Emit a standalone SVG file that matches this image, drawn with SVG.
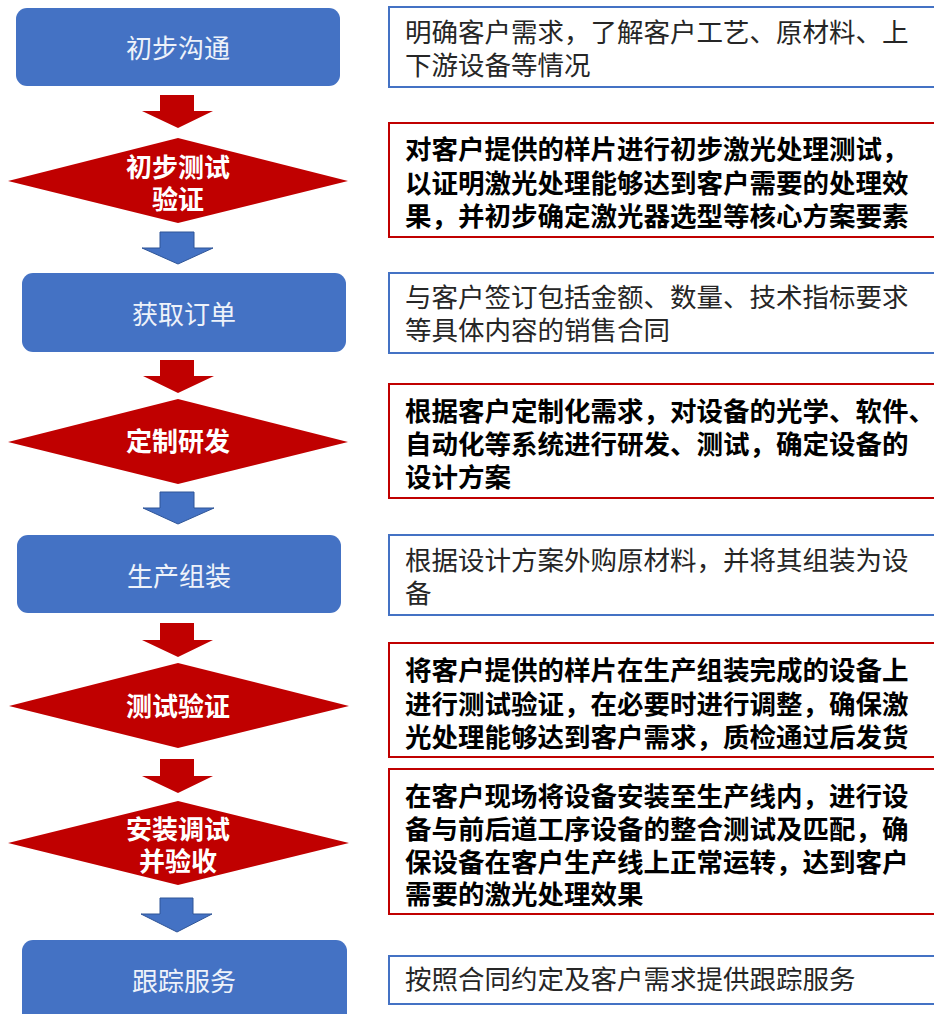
<svg xmlns="http://www.w3.org/2000/svg" width="934" height="1014" viewBox="0 0 934 1014">
<defs>
<style>
.box{fill:#4472C4;}
.dia{fill:#C00000;}
.btxt{font-family:"Liberation Serif","Noto Sans CJK SC",serif;font-size:26px;fill:#EEF2FA;text-anchor:middle;dominant-baseline:central;}
.dtxt{font-family:"Liberation Serif","Noto Sans CJK SC",serif;font-size:26px;font-weight:bold;fill:#FFFFFF;text-anchor:middle;dominant-baseline:central;}
.note-b{fill:#FFFFFF;stroke:#4472C4;stroke-width:2;}
.note-r{fill:#FFFFFF;stroke:#C00000;stroke-width:2;}
.ntxt{font-family:"Liberation Serif","Noto Sans CJK SC",serif;font-size:26.5px;fill:#262626;dominant-baseline:central;}
.ntxt-b{font-family:"Liberation Serif","Noto Sans CJK SC",serif;font-size:26.5px;font-weight:bold;fill:#000000;dominant-baseline:central;}
.arr-r{fill:#C00000;}
.arr-b{fill:#4472C4;stroke:#2F5597;stroke-width:1;}
</style>
</defs>

<g id="connectors">
<path class="arr-r" d="M160,95 H194 V111 H213 L178,128 L142,111 H160 Z"/>
<path class="arr-b" d="M160,232 H194 V248 H213 L178,264 L142,248 H160 Z"/>
<path class="arr-r" d="M160,360 H194 V376 H214 L178,393 L143,376 H160 Z"/>
<path class="arr-b" d="M160,492 H194 V508 H214 L178,524 L143,508 H160 Z"/>
<path class="arr-r" d="M160,623 H194 V640 H213 L178,657 L142,640 H160 Z"/>
<path class="arr-r" d="M160,759 H194 V776 H213 L178,793 L142,776 H160 Z"/>
<path class="arr-b" d="M160,898 H193 V914 H212 L177,932 L141,914 H160 Z"/>
</g>

<g id="n1">
<rect class="box" x="16" y="8" width="324" height="78" rx="11"/>
<text class="btxt" x="178" y="49">初步沟通</text>
</g>
<g id="d1">
<polygon class="dia" points="178,138 348,181 178,223 8,181"/>
<text class="dtxt" x="178" y="168">初步测试</text>
<text class="dtxt" x="178" y="200">验证</text>
</g>
<g id="n2">
<rect class="box" x="22" y="273" width="324" height="79" rx="11"/>
<text class="btxt" x="184" y="315">获取订单</text>
</g>
<g id="d2">
<polygon class="dia" points="178,399 348,442 178,484 8,442"/>
<text class="dtxt" x="178" y="442">定制研发</text>
</g>
<g id="n3">
<rect class="box" x="17" y="535" width="324" height="78" rx="11"/>
<text class="btxt" x="179" y="577">生产组装</text>
</g>
<g id="d3">
<polygon class="dia" points="178,663 349,706 178,748 9,706"/>
<text class="dtxt" x="178" y="707">测试验证</text>
</g>
<g id="d4">
<polygon class="dia" points="178,801 349,843 178,885 8,843"/>
<text class="dtxt" x="178" y="830">安装调试</text>
<text class="dtxt" x="178" y="862">并验收</text>
</g>
<g id="n4">
<rect class="box" x="22" y="940" width="325" height="90" rx="11"/>
<text class="btxt" x="184" y="982">跟踪服务</text>
</g>

<g id="t1">
<rect class="note-b" x="389" y="7" width="560" height="80"/>
<text class="ntxt" x="405" y="33">明确客户需求，了解客户工艺、原材料、上</text>
<text class="ntxt" x="405" y="66">下游设备等情况</text>
</g>
<g id="t2">
<rect class="note-r" x="389" y="123" width="560" height="114"/>
<text class="ntxt-b" x="405" y="150">对客户提供的样片进行初步激光处理测试，</text>
<text class="ntxt-b" x="405" y="184">以证明激光处理能够达到客户需要的处理效</text>
<text class="ntxt-b" x="405" y="217">果，并初步确定激光器选型等核心方案要素</text>
</g>
<g id="t3">
<rect class="note-b" x="389" y="273" width="560" height="80"/>
<text class="ntxt" x="405" y="298">与客户签订包括金额、数量、技术指标要求</text>
<text class="ntxt" x="405" y="331">等具体内容的销售合同</text>
</g>
<g id="t4">
<rect class="note-r" x="389" y="384" width="560" height="114"/>
<text class="ntxt-b" x="405" y="412">根据客户定制化需求，对设备的光学、软件、</text>
<text class="ntxt-b" x="405" y="445">自动化等系统进行研发、测试，确定设备的</text>
<text class="ntxt-b" x="405" y="478">设计方案</text>
</g>
<g id="t5">
<rect class="note-b" x="389" y="535" width="560" height="80"/>
<text class="ntxt" x="405" y="561">根据设计方案外购原材料，并将其组装为设</text>
<text class="ntxt" x="405" y="594">备</text>
</g>
<g id="t6">
<rect class="note-r" x="389" y="643" width="560" height="114"/>
<text class="ntxt-b" x="405" y="671">将客户提供的样片在生产组装完成的设备上</text>
<text class="ntxt-b" x="405" y="705">进行测试验证，在必要时进行调整，确保激</text>
<text class="ntxt-b" x="405" y="738">光处理能够达到客户需求，质检通过后发货</text>
</g>
<g id="t7">
<rect class="note-r" x="389" y="769" width="560" height="145"/>
<text class="ntxt-b" x="405" y="797">在客户现场将设备安装至生产线内，进行设</text>
<text class="ntxt-b" x="405" y="830">备与前后道工序设备的整合测试及匹配，确</text>
<text class="ntxt-b" x="405" y="863">保设备在客户生产线上正常运转，达到客户</text>
<text class="ntxt-b" x="405" y="895">需要的激光处理效果</text>
</g>
<g id="t8">
<rect class="note-b" x="389" y="956" width="560" height="48"/>
<text class="ntxt" x="405" y="980">按照合同约定及客户需求提供跟踪服务</text>
</g>
</svg>
